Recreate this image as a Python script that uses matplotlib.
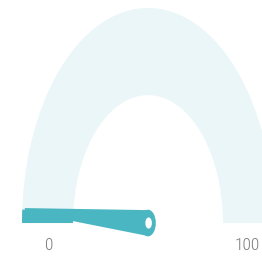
"""
gauge chart: value near the low end of a 0-100 scale
"""

import matplotlib.pyplot as plt
from matplotlib.patches import Wedge, Circle, Polygon
import numpy as np

# gauge data
gauge_min = 0
gauge_max = 100
gauge_value = 2
tick_labels = ["0", "100"]

band_color = "#eaf6f8"
teal = "#4ab6c2"

fig = plt.figure(figsize=(2.62, 2.57), dpi=100)
ax = fig.add_axes([0, 0, 1, 1])
ax.set_xlim(-1.1746, 0.9048)
ax.set_ylim(-0.158, 1.037)
ax.set_aspect("auto")
ax.axis("off")

inner = 0.595
# background band
ax.add_patch(Wedge((0, 0), 1, 0, 180, width=1 - inner, color=band_color, lw=0))

# value band from the minimum up to the value
frac = (gauge_value - gauge_min) / (gauge_max - gauge_min)
angle = 180 - frac * 180
ax.add_patch(Wedge((0, 0), 1, angle, 180, width=1 - inner, color=teal, lw=0))

# needle, tapered from the pivot to the tip
a = np.deg2rad(angle)
d = np.array([np.cos(a), np.sin(a)])
n = np.array([-d[1], d[0]])
base_w = 0.06
tip = d * 0.98
needle = [n * base_w, tip + n * 0.008, tip - n * 0.008, -n * base_w]
ax.add_patch(Polygon(needle, closed=True, color=teal, lw=0))
ax.add_patch(Circle((0, 0), 0.062, color=teal, lw=0))
ax.add_patch(Circle((0.005, 0), 0.026, color="white", lw=0))

# min / max labels
font = ["Roboto Condensed", "DejaVu Sans"]
ax.text(-0.785, -0.103, tick_labels[0], ha="center", va="center",
        fontsize=12.5, color="#7a7a7a", family=font, weight="light")
ax.text(0.79, -0.103, tick_labels[1], ha="center", va="center",
        fontsize=12.5, color="#7a7a7a", family=font, weight="light")

fig.savefig("out.png", dpi=100)
